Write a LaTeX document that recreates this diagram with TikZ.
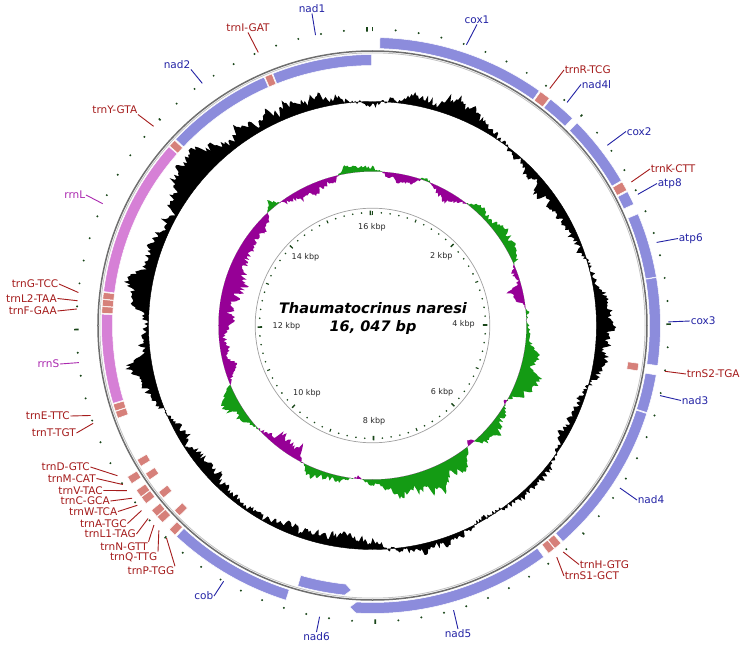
\documentclass[tikz,border=0pt]{standalone}
\usepackage{fontspec}
\setmainfont{DejaVu Sans}[BoldFont={DejaVu Sans Bold},ItalicFont={DejaVu Sans Oblique},BoldItalicFont={DejaVu Sans Bold Oblique}]
\definecolor{genefill}{RGB}{140,140,220}
\definecolor{trnfill}{RGB}{214,128,122}
\definecolor{rrnfill}{RGB}{214,128,214}
\definecolor{lblred}{RGB}{165,28,28}
\definecolor{lblblue}{RGB}{35,35,165}
\definecolor{lblmag}{RGB}{170,40,175}
\definecolor{skgreen}{RGB}{20,155,20}
\definecolor{skpurple}{RGB}{150,0,150}
\definecolor{tickc}{RGB}{25,70,25}
\definecolor{backc}{RGB}{110,110,110}
\definecolor{backl}{RGB}{195,195,195}
\definecolor{innerc}{RGB}{160,160,160}
\definecolor{kbpc}{RGB}{40,40,40}

\newcommand\gbox[4]{%
  \pgfmathsetmacro\gbA{90-(#1)}\pgfmathsetmacro\gbB{90-(#2)}\pgfmathsetmacro\gbR{#3+11}%
  \path[#4] (\gbA:#3pt) arc[start angle=\gbA, end angle=\gbB, radius=#3pt] -- (\gbB:\gbR pt) arc[start angle=\gbB, end angle=\gbA, radius=\gbR pt] -- cycle;}
\newcommand\gboxtipS[4]{%
  \pgfmathsetmacro\gbA{90-(#1)}\pgfmathsetmacro\gbAt{90-(#1)-1.3}\pgfmathsetmacro\gbB{90-(#2)}\pgfmathsetmacro\gbR{#3+11}\pgfmathsetmacro\gbM{#3+5.5}%
  \path[#4] (\gbAt:#3pt) arc[start angle=\gbAt, end angle=\gbB, radius=#3pt] -- (\gbB:\gbR pt) arc[start angle=\gbB, end angle=\gbAt, radius=\gbR pt] -- (\gbA:\gbM pt) -- cycle;}
\newcommand\gboxtipE[4]{%
  \pgfmathsetmacro\gbA{90-(#1)}\pgfmathsetmacro\gbBt{90-(#2)+1.3}\pgfmathsetmacro\gbB{90-(#2)}\pgfmathsetmacro\gbR{#3+11}\pgfmathsetmacro\gbM{#3+5.5}%
  \path[#4] (\gbA:#3pt) arc[start angle=\gbA, end angle=\gbBt, radius=#3pt] -- (\gbB:\gbM pt) -- (\gbBt:\gbR pt) arc[start angle=\gbBt, end angle=\gbA, radius=\gbR pt] -- cycle;}
\newcommand\glabel[8]{%
  \coordinate (#1-f) at ({90-(#7)}:296pt);
  \node[lbl, #3, anchor=#6] (#1) at ({#4-372.5},{325.5-#5}) {#2};
  \draw[#3, lline] (#1.#8) -- (#1-f);}

\def\gcarr{{-6,15,24,14,-8,-15,-14,-6,10,20,12,-8,-12,8,6,-4,10,12,-10,-18,-12,-6,-10,-14,-12,6,24,3,27,16,20,26,28,22,18,8,-6}}
\def\skarr{{8,-4,-10,-10,5,-8,-12,-10,8,12,12,16,18,14,-18,-20,-10,4,5,6,18,20,22,18,-6,20,25,20,-7,12,20,25,28,25,22,15,12,-3,3,12,15,10,-15,-20,-18,-4,3,18,20,10,-8,-15,-12,-10,-16,-20,-24,-25,-25,-22,-20,-18,-15,-8,10,-8,-12,-10,-12,-8,8,10,8}}

\begin{document}
\begin{tikzpicture}[x=1pt,y=1pt,
  lbl/.style={font=\fontsize{10.5}{12}\selectfont, inner sep=0.8pt, outer sep=0pt},
  rd/.style={color=lblred},
  bl/.style={color=lblblue},
  mg/.style={color=lblmag},
  lline/.style={line width=0.9pt},
  kbp/.style={font=\fontsize{8}{9.6}\selectfont, text=kbpc, inner sep=0pt},
  genestyle/.style={fill=genefill, draw=white, line width=0.5pt},
  trnstyle/.style={fill=trnfill, draw=white, line width=0.5pt},
  rrnstyle/.style={fill=rrnfill, draw=white, line width=0.5pt},
  titlestyle/.style={font=\fontsize{14.5}{17}\selectfont\bfseries\itshape, inner sep=0pt}]
\useasboundingbox[fill=white] (-372.5,-320.5) rectangle (372.5,325.5);

% ---- GC content ring ----
\pgfmathsetseed{20231}
\gdef\gcN{0}\gdef\gcpath{}
\foreach \k in {0,...,899}{%
  \pgfmathtruncatemacro\gcI{\k/25}%
  \pgfmathtruncatemacro\gcJ{\gcI+1}%
  \pgfmathsetmacro\gcF{(\k-25*\gcI)/25}%
  \pgfmathsetmacro\gcA{\gcarr[\gcI]}%
  \pgfmathsetmacro\gcB{\gcarr[\gcJ]}%
  \pgfmathsetmacro\gcNn{0.85*\gcN+0.32*rand}%
  \xdef\gcN{\gcNn}%
  \pgfmathsetmacro\gcR{min(254,224+(\gcA*(1-\gcF)+\gcB*\gcF)*(0.65+0.6*\gcNn)+3*rand)}%
  \pgfmathsetmacro\gcT{90-\k*0.4}%
  \ifnum\k=0 \xdef\gcpath{(\gcT:\gcR pt)}\else\xdef\gcpath{\gcpath -- (\gcT:\gcR pt)}\fi
}
\fill[black, even odd rule] \gcpath -- cycle (0,0) circle[radius=224pt];
\draw[black, line width=0.4pt] (0,0) circle[radius=224pt];

% ---- GC skew ring ----
\pgfmathsetseed{777}
\gdef\skN{0}\gdef\skgpath{}\gdef\skppath{}
\foreach \k in {0,...,719}{%
  \pgfmathtruncatemacro\skI{\k/10}%
  \pgfmathtruncatemacro\skJ{\skI+1}%
  \pgfmathsetmacro\skF{(\k-10*\skI)/10}%
  \pgfmathsetmacro\skA{\skarr[\skI]}%
  \pgfmathsetmacro\skB{\skarr[\skJ]}%
  \pgfmathsetmacro\skNn{0.85*\skN+0.32*rand}%
  \xdef\skN{\skNn}%
  \pgfmathsetmacro\skR{154+(\skA*(1-\skF)+\skB*\skF)*(0.65+0.6*\skNn)+1.8*rand}%
  \pgfmathsetmacro\skG{max(154,\skR)}%
  \pgfmathsetmacro\skP{min(154,\skR)}%
  \pgfmathsetmacro\skT{90-\k/2}%
  \ifnum\k=0 \xdef\skgpath{(\skT:\skG pt)}\xdef\skppath{(\skT:\skP pt)}%
  \else\xdef\skgpath{\skgpath -- (\skT:\skG pt)}\xdef\skppath{\skppath -- (\skT:\skP pt)}\fi
}
\fill[skgreen, even odd rule] \skgpath -- cycle (0,0) circle[radius=154pt];
\fill[skpurple, even odd rule] \skppath -- cycle (0,0) circle[radius=154pt];

% ---- inner scale ring ----
\draw[innerc, line width=0.7pt] (0,0) circle[radius=117.3pt];
\foreach \k in {0,...,80}{%
  \pgfmathsetmacro\ta{90-\k*4.48682}%
  \pgfmathtruncatemacro\mA{mod(\k,20)}\pgfmathtruncatemacro\mB{mod(\k,10)}\pgfmathtruncatemacro\mC{mod(\k,5)}%
  \ifnum\mA=0 \draw[tickc, line width=1.6pt] (\ta:110.5pt) -- (\ta:115pt);
  \else\ifnum\mB=0 \draw[tickc, line width=1.3pt] (\ta:111pt) -- (\ta:115pt);
  \else\ifnum\mC=0 \draw[tickc, line width=1.1pt] (\ta:111.5pt) -- (\ta:114.5pt);
  \else \fill[tickc] (\ta:113pt) circle[radius=0.9pt];\fi\fi\fi
}
\node[kbp] (k16) at (-0.5,98.5) {16 kbp};
\node[kbp] (k2) at (68.8,69.7) {2 kbp};
\node[kbp] (k4) at (91,1.5) {4 kbp};
\node[kbp] (k6) at (69.5,-66.5) {6 kbp};
\node[kbp] (k8) at (1.5,-95.5) {8 kbp};
\node[kbp] (k10) at (-65.5,-67.5) {10 kbp};
\node[kbp] (k12) at (-86,-0.5) {12 kbp};
\node[kbp] (k14) at (-67,68.5) {14 kbp};

% ---- title ----
\node[titlestyle] (title1) at (0.5,17.2) {Thaumatocrinus naresi};
\node[titlestyle] (title2) at (0.5,-2.2) {16, 047 bp};

% ---- outer scale dots ----
\foreach \k in {0,...,80}{%
  \pgfmathsetmacro\ta{90-\k*4.48682}%
  \pgfmathtruncatemacro\mA{mod(\k,20)}\pgfmathtruncatemacro\mB{mod(\k,10)}%
  \ifnum\mA=0 \draw[tickc, line width=1.7pt] (\ta:294pt) -- (\ta:298.5pt);
  \else\ifnum\mB=0 \draw[tickc, line width=1.5pt] (\ta:295pt) -- (\ta:297.5pt);
  \else \fill[tickc] (\ta:296pt) circle[radius=1.1pt];\fi\fi
}

% ---- backbone ----
\draw[backc, line width=1.5pt] (0,0) circle[radius=274.5pt];
\draw[backl, line width=0.8pt] (0,0) circle[radius=272.6pt];

% ---- plus strand features ----
\gbox{1.5}{35.4}{277}{genestyle}
\gbox{35.7}{37.9}{277}{trnstyle}
\gbox{38.2}{44.0}{277}{genestyle}
\gbox{45.3}{59.8}{277}{genestyle}
\gbox{60.1}{62.0}{277}{trnstyle}
\gbox{62.3}{65.1}{277}{genestyle}
\gbox{67.2}{80.3}{277}{genestyle}
\gbox{80.4}{98.0}{277}{genestyle}
\gbox{99.9}{107.6}{277}{genestyle}
\gbox{107.8}{138.6}{277}{genestyle}
\gbox{139.1}{140.7}{277}{trnstyle}
\gbox{140.8}{142.3}{277}{trnstyle}
\gboxtipE{143.5}{184.6}{277}{genestyle}
\gbox{197.5}{222.9}{277}{genestyle}
\gbox{223.3}{224.9}{277}{trnstyle}
\gbox{226.8}{228.4}{277}{trnstyle}
\gbox{228.5}{230.1}{277}{trnstyle}
\gbox{231.8}{233.4}{277}{trnstyle}
\gbox{233.5}{235.1}{277}{trnstyle}
\gbox{236.7}{238.3}{277}{trnstyle}
% ---- minus strand features ----
\gbox{98.1}{99.7}{258}{trnstyle}
\gboxtipS{184.6}{196.0}{260}{genestyle}
\gbox{225.4}{227.0}{260}{trnstyle}
\gbox{230.5}{232.1}{260}{trnstyle}
\gbox{235.3}{236.9}{260}{trnstyle}
\gbox{238.7}{240.3}{260}{trnstyle}
\gbox{250.0}{251.5}{260}{trnstyle}
\gbox{251.6}{253.1}{260}{trnstyle}
\gbox{253.3}{272.4}{260}{rrnstyle}
\gbox{272.6}{274.0}{260}{trnstyle}
\gbox{274.1}{275.5}{260}{trnstyle}
\gbox{275.6}{277.0}{260}{trnstyle}
\gbox{277.2}{311.3}{260}{rrnstyle}
\gbox{311.5}{313.1}{260}{trnstyle}
\gbox{313.4}{336.4}{260}{genestyle}
\gbox{336.6}{338.2}{260}{trnstyle}
\gbox{338.4}{359.8}{260}{genestyle}

% ---- labels ----
\glabel{lnad1}{nad1}{bl}{312}{13.5}{south}{348.9}{south}
\glabel{ltrnI}{trnI-GAT}{rd}{248}{32.5}{south}{337.3}{south}
\glabel{lnad2}{nad2}{bl}{191}{69.5}{south east}{324.9}{south east}
\glabel{ltrnY}{trnY-GTA}{rd}{138}{114.5}{south east}{312.3}{south east}
\glabel{lrrnL}{rrnL}{mg}{86}{195}{east}{294.3}{east}
\glabel{ltrnG}{trnG-TCC}{rd}{59}{284}{east}{276.4}{east}
\glabel{ltrnL2}{trnL2-TAA}{rd}{57.5}{298.5}{east}{274.8}{east}
\glabel{ltrnF}{trnF-GAA}{rd}{57.5}{311}{east}{273.2}{east}
\glabel{lrrnS}{rrnS}{mg}{60}{364}{east}{262.8}{east}
\glabel{ltrnE}{trnE-TTC}{rd}{70.5}{416}{east}{252.3}{east}
\glabel{ltrnT}{trnT-TGT}{rd}{76.5}{433}{east}{250.7}{east}
\glabel{ltrnD}{trnD-GTC}{rd}{90.5}{467}{east}{239.5}{east}
\glabel{ltrnM}{trnM-CAT}{rd}{96.5}{478.5}{east}{237.5}{east}
\glabel{ltrnV}{trnV-TAC}{rd}{103.5}{490.5}{east}{236.1}{east}
\glabel{ltrnC}{trnC-GCA}{rd}{110.5}{501}{east}{234.3}{east}
\glabel{ltrnW}{trnW-TCA}{rd}{118}{511.5}{east}{232.6}{east}
\glabel{ltrnA}{trnA-TGC}{rd}{127.5}{523.5}{east}{231.3}{east}
\glabel{ltrnL1}{trnL1-TAG}{rd}{136.5}{534}{east}{229.3}{east}
\glabel{ltrnN}{trnN-GTT}{rd}{148.5}{546.5}{east}{227.6}{north east}
\glabel{ltrnQ}{trnQ-TTG}{rd}{158}{557}{east}{226.2}{north east}
\glabel{ltrnP}{trnP-TGG}{rd}{175}{571}{east}{224.1}{north east}
\glabel{lcob}{cob}{bl}{214}{596}{east}{210.2}{east}
\glabel{lnad6}{nad6}{bl}{316.5}{632}{north}{190.3}{north}
\glabel{lnad5}{nad5}{bl}{458}{629}{north}{164.1}{north}
\glabel{ltrnS1}{trnS1-GCT}{rd}{564}{576}{west}{141.5}{west}
\glabel{ltrnH}{trnH-GTG}{rd}{579}{564.5}{west}{139.9}{west}
\glabel{lnad4}{nad4}{bl}{637}{500}{west}{123.3}{west}
\glabel{lnad3}{nad3}{bl}{681}{400.5}{west}{103.7}{west}
\glabel{ltrnS2}{trnS2-TGA}{rd}{686}{374}{west}{98.9}{west}
\glabel{lcox3}{cox3}{bl}{690}{321}{west}{89.3}{west}
\glabel{latp6}{atp6}{bl}{678}{238.5}{west}{73.7}{west}
\glabel{latp8}{atp8}{bl}{657}{183.5}{west}{63.7}{west}
\glabel{ltrnK}{trnK-CTT}{rd}{650}{169}{west}{61.0}{west}
\glabel{lcox2}{cox2}{bl}{626}{131.5}{west}{52.5}{west}
\glabel{lnad4l}{nad4l}{bl}{581}{84.5}{west}{41.1}{west}
\glabel{ltrnR}{trnR-TCG}{rd}{564}{70}{west}{36.8}{west}
\glabel{lcox1}{cox1}{bl}{477}{24.5}{south}{18.5}{south}
\end{tikzpicture}
\end{document}
